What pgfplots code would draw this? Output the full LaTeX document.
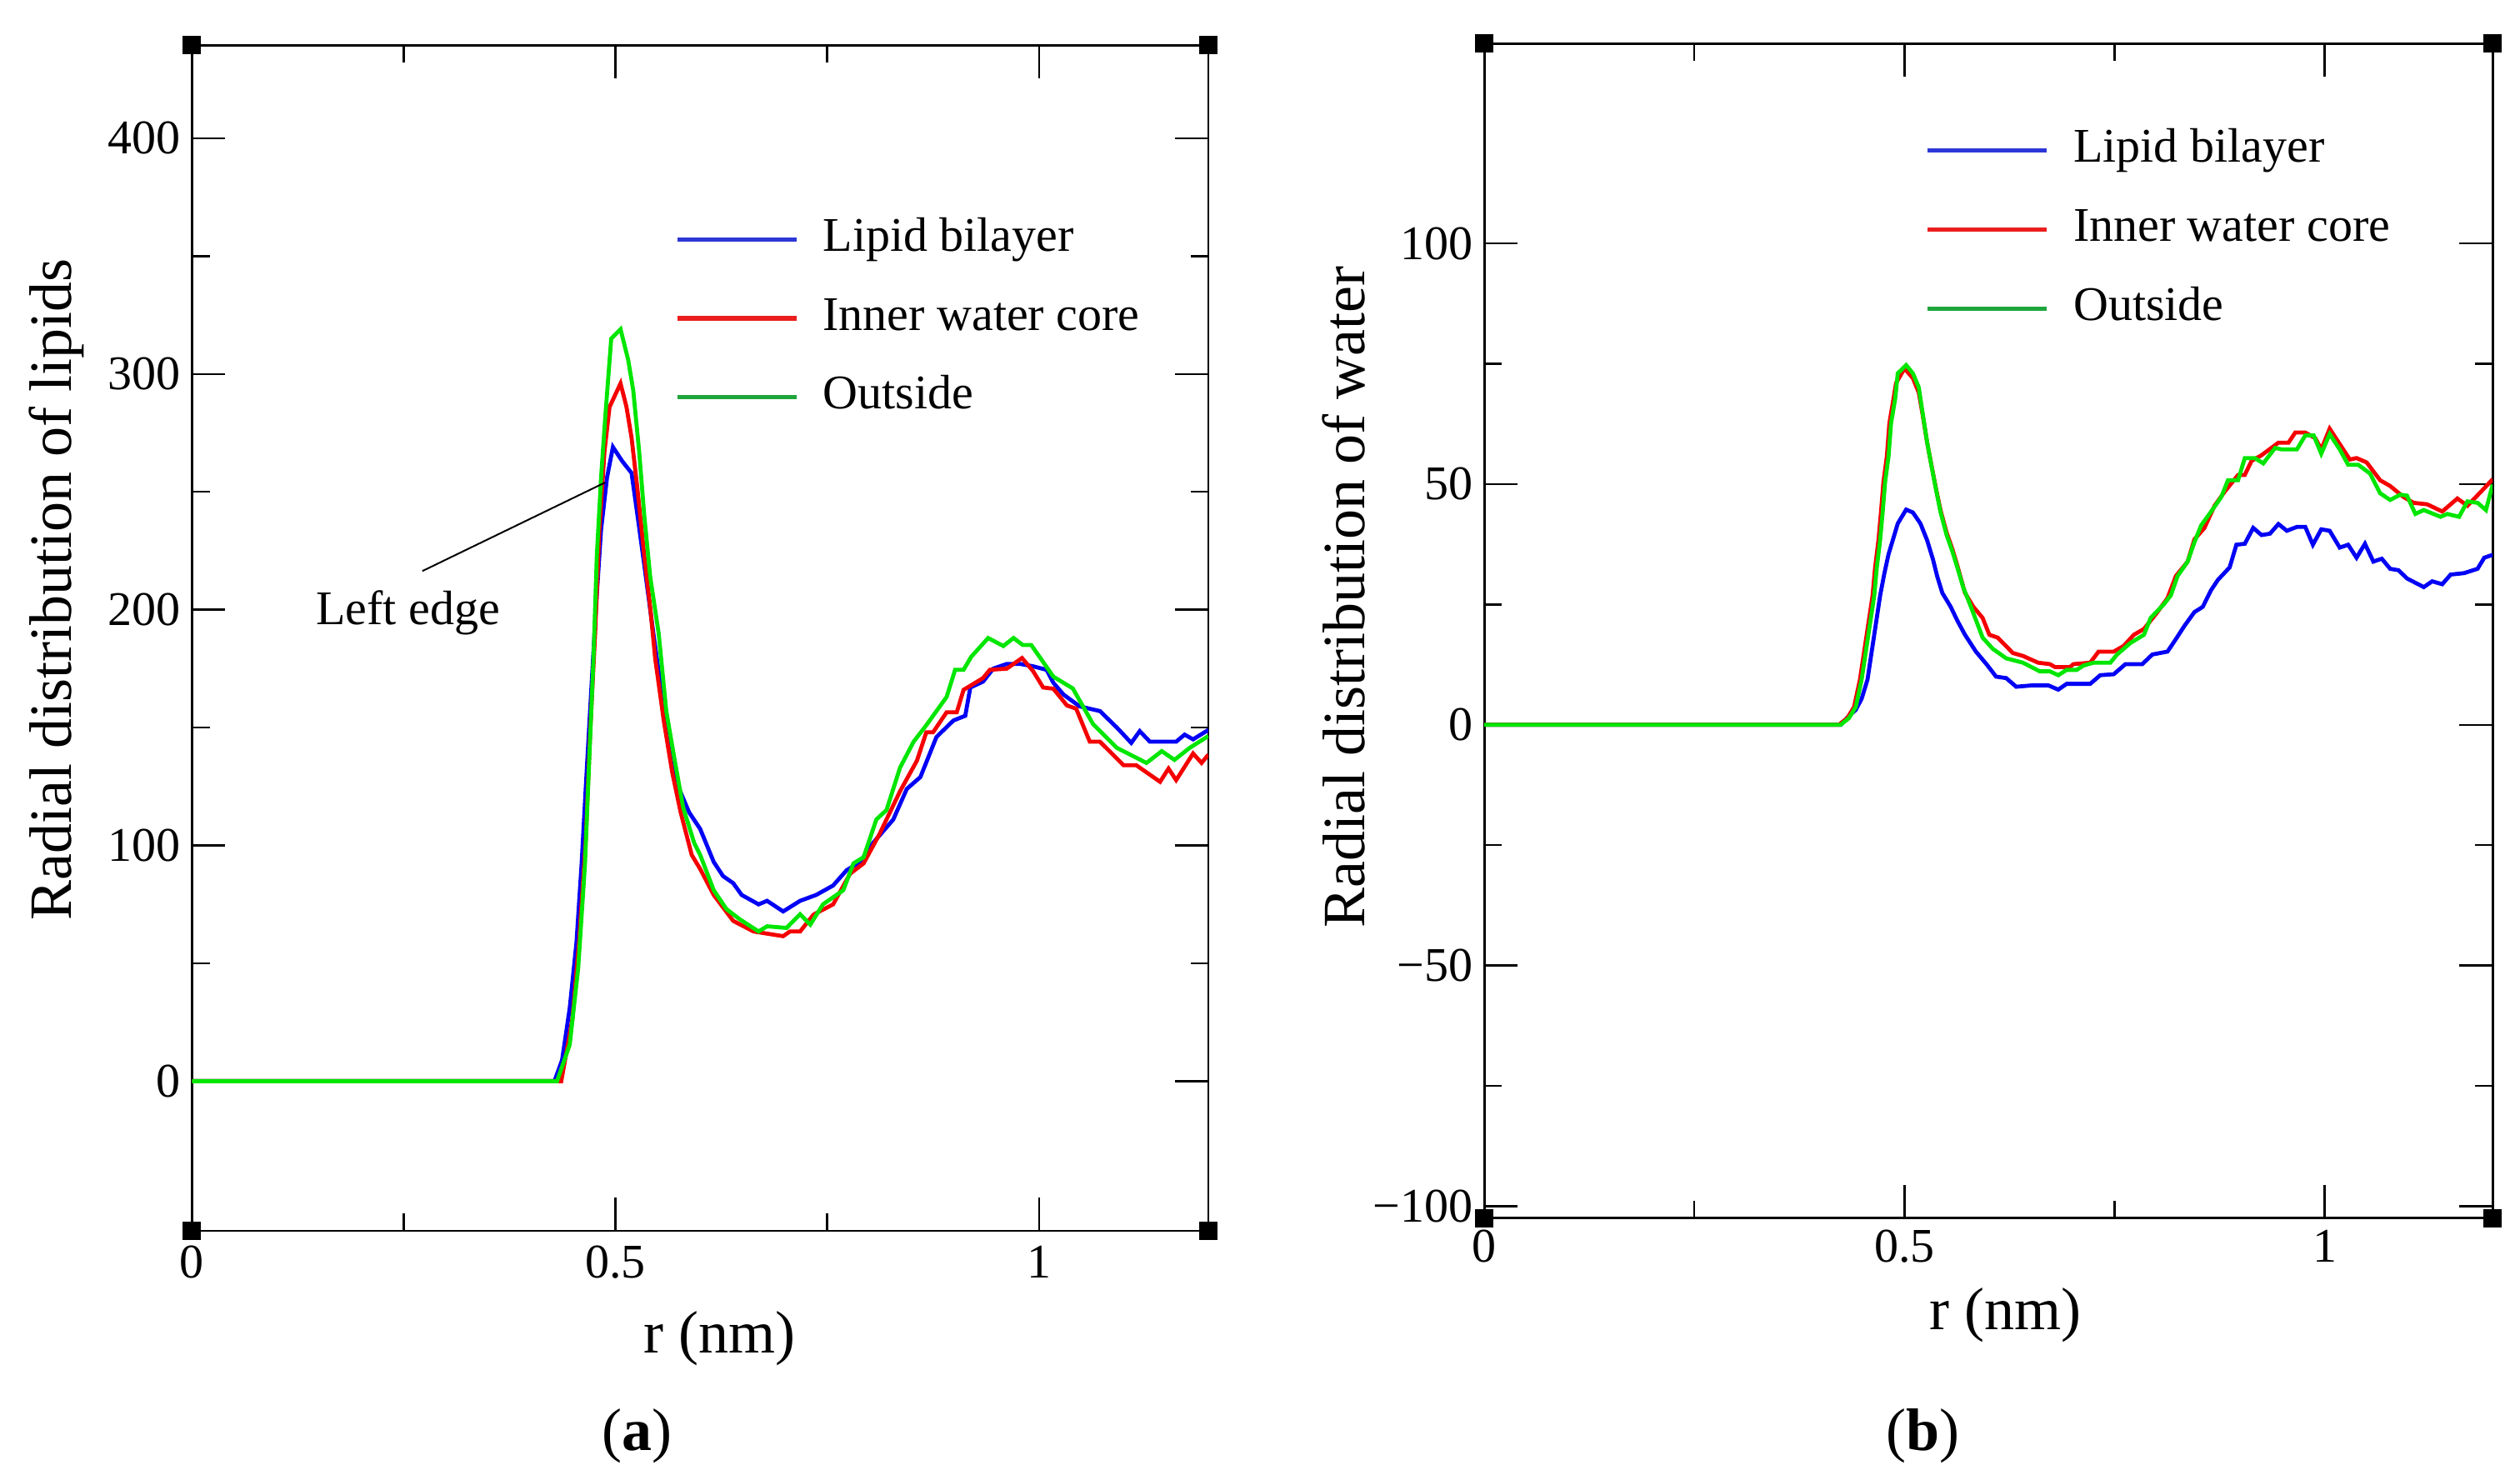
\documentclass[border=0pt]{standalone}
\usepackage{fontspec}
\setmainfont{Liberation Serif}
\usepackage{pgfplots}
\pgfplotsset{compat=1.18}
\definecolor{cblue}{RGB}{0,0,245}
\definecolor{cred}{RGB}{245,0,0}
\definecolor{cgreen}{RGB}{0,230,0}
\definecolor{lblue}{RGB}{45,55,215}
\definecolor{lred}{RGB}{235,30,30}
\definecolor{lgreen}{RGB}{30,165,60}
\newcommand{\tickfont}{\fontsize{14.5}{17}\selectfont}
\newcommand{\labfont}{\fontsize{18}{21}\selectfont}
\pgfplotsset{
  rdf/.style={
    scale only axis,
    xmin=0, xmax=1.2,
    xtick={0,0.5,1}, xticklabels={0,0.5,1},
    minor x tick num=1, minor y tick num=1,
    major tick length=10pt, minor tick length=5.3pt,
    tick style={black, line width=0.6pt},
    axis line style={line width=0.7pt},
    tick label style={font=\tickfont},
    label style={font=\labfont},
    legend style={draw=none, fill=none, inner sep=0pt, font=\tickfont,
      row sep=3.9pt,
      /tikz/every odd column/.append style={column sep=2.9pt},
      nodes={text height=10.5pt, text depth=3.5pt, inner xsep=4.4pt, inner ysep=2.9pt}},
    legend cell align=left,
    legend image code/.code={\draw[#1] (0pt,0pt) -- (35.8pt,0pt);},
    every axis plot/.append style={line width=1.2pt},
  }
}
\begin{document}
\begin{tikzpicture}
\path[use as bounding box] (0,0) rectangle (756pt,-444pt);

\begin{axis}[rdf, name=L,
  at={(57.6pt,-13.55pt)}, anchor=north west,
  width=304.9pt, height=355.7pt,
  ymin=-63.5, ymax=439.5,
  ytick={0,100,200,300,400}, yticklabels={0,100,200,300,400},
  xticklabel style={yshift=-1pt},
  xlabel={r (nm)}, ylabel={Radial distribution of lipids},
  xlabel style={at={(rel axis cs:0.519,-0.0911)}, anchor=center},
  ylabel style={at={(rel axis cs:-0.1335,0.541)}, anchor=center},
  legend style={at={(rel axis cs:0.4746,0.8646)}, anchor=north west},
]
\addplot[cblue, forget plot] coordinates {
(0,0) (0.428,0) (0.437,9) (0.446,31) (0.454,59) (0.460,92) (0.465,125) (0.470,157)
(0.477,201) (0.483,234) (0.490,256) (0.497,269) (0.508,263) (0.519,258) (0.526,240)
(0.534,219) (0.544,192) (0.554,166) (0.564,142) (0.574,125) (0.587,114) (0.600,107)
(0.616,93) (0.627,87) (0.639,84) (0.649,79) (0.669,75) (0.679,76.5) (0.698,72)
(0.718,76.5) (0.737,79) (0.757,83) (0.773,89.5) (0.789,93) (0.804,101) (0.828,111)
(0.844,124) (0.860,129) (0.879,146) (0.899,153) (0.913,155) (0.919,167) (0.934,169.5)
(0.946,175) (0.962,177) (0.978,177) (0.993,176) (1.009,174.5) (1.017,169) (1.029,164)
(1.048,159) (1.072,157) (1.092,150) (1.109,143.5) (1.119,148.5) (1.131,144) (1.162,144)
(1.172,147) (1.182,145) (1.200,149)
};
\addplot[cred, forget plot] coordinates {
(0,0) (0.436,0) (0.449,26) (0.457,59) (0.465,103) (0.470,147) (0.476,190) (0.481,234)
(0.487,267) (0.493,286) (0.506,296) (0.513,286) (0.519,273) (0.526,251) (0.534,223)
(0.541,201) (0.547,179) (0.557,153) (0.567,131) (0.577,114) (0.590,96) (0.600,90)
(0.616,79) (0.639,68) (0.663,63.5) (0.698,61.5) (0.706,63.5) (0.718,63.5) (0.734,70.7)
(0.757,75) (0.777,88) (0.793,92.4) (0.812,105) (0.836,123) (0.856,136) (0.867,148)
(0.875,148) (0.891,156.5) (0.903,156.5) (0.911,166) (0.934,171) (0.942,174.5) (0.962,175)
(0.980,179.5) (0.993,174) (1.005,167) (1.017,166.5) (1.033,159.4) (1.044,158) (1.060,144)
(1.072,144) (1.100,134) (1.115,134) (1.143,127) (1.153,132.6) (1.162,127.7) (1.182,139)
(1.192,135) (1.200,138.5)
};
\addplot[cgreen, forget plot] coordinates {
(0,0) (0.431,0) (0.446,15.5) (0.456,48) (0.464,92) (0.469,136) (0.474,179) (0.478,223)
(0.483,256) (0.488,282) (0.495,315) (0.506,319) (0.515,306) (0.521,293) (0.528,267)
(0.534,240) (0.541,214) (0.551,190) (0.560,157) (0.570,136) (0.580,116) (0.593,101)
(0.600,96) (0.616,81) (0.631,73) (0.647,68.6) (0.669,63.5) (0.679,65.7) (0.702,65)
(0.718,70.8) (0.730,66.4) (0.745,75) (0.769,81) (0.781,92.4) (0.793,95) (0.808,111)
(0.820,115) (0.836,133) (0.852,144) (0.867,151) (0.891,163) (0.901,174.5) (0.911,174.5)
(0.920,180) (0.940,188) (0.958,184.6) (0.970,188) (0.981,185) (0.991,185) (1.017,171.6)
(1.040,166.6) (1.064,151.4) (1.092,141.4) (1.127,135) (1.145,140) (1.160,136.3)
(1.178,141.4) (1.200,146.4)
};
\addlegendimage{lblue, line width=1.3pt}
\addlegendentry{Lipid bilayer}
\addlegendimage{lred, line width=1.3pt}
\addlegendentry{Inner water core}
\addlegendimage{lgreen, line width=1.3pt}
\addlegendentry{Outside}
\draw[line width=0.5pt] (axis cs:0.272,216.4) -- (axis cs:0.488,254);
\node[font=\tickfont] at (axis cs:0.255,198.6) {Left edge};
\end{axis}

\begin{axis}[rdf, name=R,
  at={(445.3pt,-13.07pt)}, anchor=north west,
  width=302.5pt, height=352.4pt,
  ymin=-102.5, ymax=141.5,
  ytick={-100,-50,0,50,100}, yticklabels={−100,−50,0,50,100},
  xlabel={r (nm)}, ylabel={Radial distribution of water},
  xlabel style={at={(rel axis cs:0.517,-0.0823)}, anchor=center},
  ylabel style={at={(rel axis cs:-0.1392,0.529)}, anchor=center},
  legend style={at={(rel axis cs:0.4368,0.9375)}, anchor=north west},
]
\addplot[cblue, forget plot] coordinates {
(0,0) (0.424,0) (0.433,1.7) (0.442,3.1) (0.449,5.4) (0.456,9.4) (0.461,15.2) (0.466,21)
(0.471,26.8) (0.476,31.4) (0.481,35.4) (0.486,38.3) (0.492,41.8) (0.502,44.7) (0.510,44.1)
(0.519,41.8) (0.527,38.3) (0.534,34.3) (0.539,30.8) (0.545,27.4) (0.555,24.5) (0.563,21.6)
(0.572,18.7) (0.585,15.2) (0.598,12.5) (0.609,10) (0.621,9.7) (0.633,7.9) (0.653,8.2)
(0.671,8.2) (0.683,7.3) (0.693,8.5) (0.721,8.5) (0.733,10.3) (0.749,10.5) (0.763,12.6)
(0.783,12.6) (0.795,14.6) (0.813,15.2) (0.823,17.8) (0.833,20.5) (0.845,23.4) (0.855,24.5)
(0.865,28) (0.873,30.1) (0.887,32.7) (0.895,37.4) (0.905,37.6) (0.915,40.9) (0.925,39.4)
(0.935,39.7) (0.945,41.7) (0.955,40.3) (0.967,41.1) (0.977,41.1) (0.986,37.4) (0.996,40.6)
(1.006,40.3) (1.018,36.8) (1.028,37.4) (1.038,34.7) (1.048,37.6) (1.058,33.9) (1.068,34.5)
(1.078,32.4) (1.088,32.1) (1.098,30.4) (1.118,28.6) (1.128,29.8) (1.140,29.2) (1.150,31.2)
(1.166,31.5) (1.182,32.4) (1.190,34.7) (1.200,35.3)
};
\addplot[cred, forget plot] coordinates {
(0,0) (0.422,0) (0.432,1.4) (0.440,3.7) (0.447,9.4) (0.452,15.2) (0.457,21) (0.462,26.8)
(0.465,32.6) (0.469,38.3) (0.472,44.1) (0.475,50.5) (0.479,55.7) (0.482,62.6) (0.487,67.8)
(0.490,71) (0.500,74) (0.510,72) (0.517,69) (0.522,64) (0.527,58.6) (0.532,54) (0.537,49.5)
(0.543,44.5) (0.550,40) (0.557,36.5) (0.563,33) (0.572,27.4) (0.582,24.5) (0.593,22.2)
(0.601,18.7) (0.611,18.1) (0.629,14.9) (0.641,14.3) (0.659,12.9) (0.673,12.6) (0.679,12)
(0.697,12) (0.701,12.6) (0.721,12.9) (0.731,15.2) (0.749,15.2) (0.761,16.4) (0.773,18.7)
(0.785,19.9) (0.801,23.4) (0.813,26.3) (0.823,30.9) (0.837,33.9) (0.845,38.5) (0.857,40.9)
(0.869,45.5) (0.881,48.4) (0.897,51.9) (0.905,51.9) (0.913,54.8) (0.925,56) (0.945,58.6)
(0.957,58.6) (0.965,60.7) (0.977,60.7) (0.989,59.5) (0.996,57.2) (1.006,61.5) (1.018,58.3)
(1.030,55.1) (1.038,55.4) (1.050,54.5) (1.066,50.8) (1.078,49.6) (1.094,47.3) (1.106,46.1)
(1.122,45.8) (1.140,44.3) (1.158,47) (1.170,45.5) (1.186,48.4) (1.200,51)
};
\addplot[cgreen, forget plot] coordinates {
(0,0) (0.424,0) (0.434,1.4) (0.442,3.7) (0.449,9.4) (0.454,15.2) (0.459,21) (0.464,26.8)
(0.467,32.6) (0.471,38.3) (0.474,44.1) (0.477,50.5) (0.481,55.7) (0.484,62.6) (0.489,67.8)
(0.492,73) (0.502,74.7) (0.510,73) (0.517,70.1) (0.522,64.3) (0.527,58.6) (0.532,53.9)
(0.537,49.3) (0.543,44.1) (0.550,39.5) (0.557,36) (0.563,32.6) (0.570,28.5) (0.578,25)
(0.588,20.4) (0.593,18.1) (0.605,15.8) (0.621,13.8) (0.641,12.9) (0.661,11.1) (0.673,11.1)
(0.683,10.3) (0.693,11.4) (0.705,11.4) (0.713,12.3) (0.725,12.9) (0.745,12.9) (0.753,14.6)
(0.769,17) (0.785,18.7) (0.793,22.2) (0.809,25.1) (0.817,26.9) (0.825,30.9) (0.837,33.9)
(0.845,37.9) (0.853,41.4) (0.865,44.3) (0.877,47.3) (0.885,50.8) (0.897,50.8) (0.905,55.4)
(0.917,55.4) (0.927,54.3) (0.941,57.5) (0.949,57.2) (0.967,57.2) (0.977,60.1) (0.987,60.1)
(0.996,56.3) (1.006,60.4) (1.018,57.2) (1.028,54) (1.040,54) (1.054,52.2) (1.066,48.1)
(1.078,46.7) (1.090,47.8) (1.098,47.6) (1.108,43.8) (1.118,44.6) (1.138,43.2) (1.146,43.8)
(1.160,43.2) (1.170,46.4) (1.182,46.1) (1.192,44.6) (1.200,49.9)
};
\addlegendimage{lblue, line width=1.3pt}
\addlegendentry{Lipid bilayer}
\addlegendimage{lred, line width=1.3pt}
\addlegendentry{Inner water core}
\addlegendimage{lgreen, line width=1.3pt}
\addlegendentry{Outside}
\end{axis}

% corner handles
\foreach \ax in {L,R}{
  \foreach \c in {south west,south east,north west,north east}{
    \fill[black] (\ax.\c) ++(-2.75pt,-2.75pt) rectangle ++(5.5pt,5.5pt);
  }
}

\node[font=\labfont] at (191.2pt,-430.8pt) {(\textbf{a})};
\node[font=\labfont] at (576.9pt,-430.8pt) {(\textbf{b})};
\end{tikzpicture}
\end{document}
